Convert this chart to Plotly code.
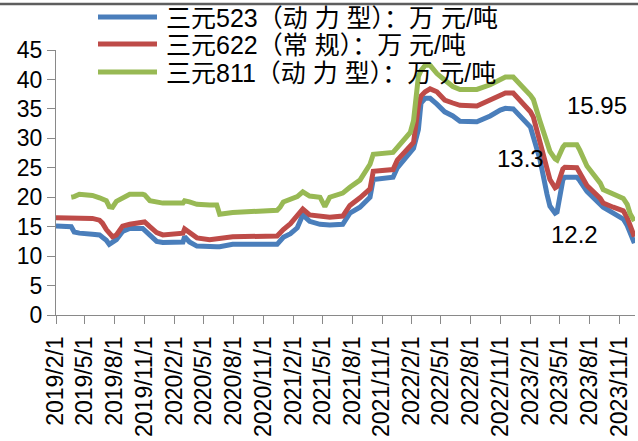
import plotly.graph_objects as go

# Weekly quotation dates (sampled where prices change)
dates = [
    "2019-02-01", "2019-03-01", "2019-03-20", "2019-03-29", "2019-04-14", "2019-05-24",
    "2019-06-15", "2019-06-24", "2019-07-06", "2019-07-15", "2019-07-25", "2019-08-06",
    "2019-08-25", "2019-09-16", "2019-10-26", "2019-11-01", "2019-11-17", "2019-12-08",
    "2019-12-27", "2020-02-27", "2020-03-03", "2020-03-18", "2020-04-10", "2020-05-19",
    "2020-06-10", "2020-06-19", "2020-07-29", "2020-12-13", "2020-12-22", "2021-01-01",
    "2021-01-23", "2021-02-13", "2021-03-02", "2021-03-23", "2021-04-24", "2021-05-09",
    "2021-05-24", "2021-07-03", "2021-07-25", "2021-08-25", "2021-09-25", "2021-10-05",
    "2021-12-05", "2021-12-18", "2022-01-27", "2022-02-06", "2022-02-21", "2022-03-01",
    "2022-03-14", "2022-03-29", "2022-04-19", "2022-05-13", "2022-06-07", "2022-06-29",
    "2022-08-20", "2022-09-30", "2022-10-31", "2022-11-16", "2022-12-10", "2022-12-22",
    "2023-01-10", "2023-02-01", "2023-02-10", "2023-03-02", "2023-03-24", "2023-04-02",
    "2023-04-18", "2023-04-24", "2023-05-12", "2023-05-18", "2023-06-24", "2023-07-03",
    "2023-07-25", "2023-09-04", "2023-09-13", "2023-10-14", "2023-11-14", "2023-11-26",
    "2023-12-05", "2023-12-18",
]

# 三元523（动力型）, 万元/吨
ncm523 = [
    15.1, 15.1, 15.0, 14.1, 13.9, 13.7, 13.6, 13.2, 12.7, 12.0, 12.3, 12.8,
    14.2, 14.7, 14.7, 14.4, 13.5, 12.5, 12.3, 12.4, 13.3, 12.4, 11.7, 11.5,
    11.6, 11.6, 12.0, 12.0, 12.6, 13.2, 13.8, 14.8, 17.0, 15.9, 15.4, 15.3,
    15.3, 15.4, 17.3, 18.3, 20.0, 23.0, 23.4, 25.0, 27.5, 28.3, 31.5, 36.0,
    36.8, 36.8, 35.8, 34.5, 33.8, 32.9, 32.8, 33.8, 34.8, 35.1, 35.0, 34.3,
    33.2, 31.9, 30.2, 26.5, 20.5, 18.5, 17.3, 17.5, 23.0, 23.4, 23.4, 22.8,
    21.0, 19.0, 18.3, 17.3, 16.3, 15.2, 14.0, 12.2,
]

# 三元622（常规）, 万元/吨
ncm622 = [
    16.5, 16.5, 16.5, 16.5, 16.5, 16.4, 16.1, 15.6, 14.5, 13.8, 13.3, 13.6,
    15.1, 15.4, 15.6, 15.8, 15.0, 14.0, 13.6, 13.9, 14.6, 13.9, 13.1, 12.8,
    13.0, 13.0, 13.3, 13.4, 14.0, 14.5, 15.5, 16.8, 18.0, 17.0, 16.7, 16.6,
    16.6, 16.8, 18.6, 19.9, 21.4, 24.4, 24.7, 26.3, 28.8, 29.3, 35.5, 37.2,
    37.9, 38.4, 37.9, 36.5, 36.0, 35.6, 35.5, 36.5, 37.3, 37.7, 37.7, 37.0,
    35.6, 34.5, 33.6, 29.5, 25.5, 23.0, 21.6, 21.8, 24.8, 25.1, 25.0, 24.2,
    22.0, 19.8, 19.0, 18.3, 17.7, 16.5, 15.0, 13.3,
]

# 三元811（动力型）, 万元/吨 (quotes start in March 2019)
ncm811 = [
    None, None, 20.0, 20.1, 20.5, 20.3, 19.9, 19.6, 19.4, 18.4, 18.3, 19.3,
    19.9, 20.5, 20.5, 20.4, 19.4, 19.1, 19.0, 19.0, 19.4, 19.2, 18.8, 18.7,
    18.7, 17.1, 17.4, 17.8, 18.3, 19.2, 19.6, 20.1, 20.9, 20.2, 20.0, 18.4,
    20.0, 20.7, 21.7, 22.9, 25.6, 27.3, 27.6, 28.5, 31.0, 33.0, 40.5, 41.5,
    42.4, 42.4, 41.0, 39.9, 38.8, 38.3, 38.3, 39.1, 40.0, 40.4, 40.4, 39.6,
    38.6, 37.3, 36.6, 33.0, 29.5, 27.8, 26.5, 26.3, 28.5, 28.9, 28.9, 28.0,
    25.3, 22.4, 21.3, 20.6, 19.8, 18.8, 17.2, 15.95,
]

series_names = [
    "三元523（动 力 型）：万 元/吨",
    "三元622（常 规）：万 元/吨",
    "三元811（动 力 型）：万 元/吨",
]
series_values = [ncm523, ncm622, ncm811]
series_colors = ["#4A7EBB", "#BE4B48", "#98B954"]

tick_dates = [
    "2019-02-01", "2019-05-01", "2019-08-01", "2019-11-01",
    "2020-02-01", "2020-05-01", "2020-08-01", "2020-11-01",
    "2021-02-01", "2021-05-01", "2021-08-01", "2021-11-01",
    "2022-02-01", "2022-05-01", "2022-08-01", "2022-11-01",
    "2023-02-01", "2023-05-01", "2023-08-01", "2023-11-01",
]
tick_labels = [
    "2019/2/1", "2019/5/1", "2019/8/1", "2019/11/1",
    "2020/2/1", "2020/5/1", "2020/8/1", "2020/11/1",
    "2021/2/1", "2021/5/1", "2021/8/1", "2021/11/1",
    "2022/2/1", "2022/5/1", "2022/8/1", "2022/11/1",
    "2023/2/1", "2023/5/1", "2023/8/1", "2023/11/1",
]

# Latest-price call-outs: (text, x date, y level)
end_labels = [
    ("15.95", "2023-08-25", 35.5),
    ("13.3", "2023-01-01", 26.5),
    ("12.2", "2023-06-18", 13.75),
]

W, H = 638, 441
L, R, T, B = 56, 3, 50, 126
plot_w = W - L - R
plot_h = H - T - B

LATIN_CJK = "Liberation Sans, Arial, Noto Sans CJK SC, sans-serif"

fig = go.Figure()
for name, vals, col in zip(series_names, series_values, series_colors):
    fig.add_trace(go.Scatter(
        x=dates, y=vals, mode="lines", name=name,
        line=dict(color=col, width=5),
        connectgaps=False, showlegend=False,
    ))


def px_x(px):
    return (px - L) / plot_w


def px_y(py):
    return (H - B - py) / plot_h


shapes = []
annotations = []

# Hand-placed legend rows above the plot
legend_rows_y = [17, 44, 72]
for name, col, ry in zip(series_names, series_colors, legend_rows_y):
    shapes.append(dict(
        type="line", xref="paper", yref="paper",
        x0=px_x(98), x1=px_x(157), y0=px_y(ry), y1=px_y(ry),
        line=dict(color=col, width=5),
    ))
    annotations.append(dict(
        xref="paper", yref="paper", x=px_x(164), y=px_y(ry + 1),
        xanchor="left", yanchor="middle", showarrow=False,
        text=name, font=dict(family=LATIN_CJK, size=25, color="#000000"),
    ))

# Dark rule along the top edge
shapes.append(dict(
    type="line", xref="paper", yref="paper",
    x0=px_x(0), x1=px_x(W), y0=px_y(4), y1=px_y(4),
    line=dict(color="#5E5E5E", width=2.5),
))

for text, xd, yv in end_labels:
    annotations.append(dict(
        x=xd, y=yv, xref="x", yref="y", text=text, showarrow=False,
        xanchor="center", yanchor="middle",
        font=dict(family=LATIN_CJK, size=24, color="#000000"),
    ))

fig.update_layout(
    width=W, height=H,
    margin=dict(l=L, r=R, t=T, b=B),
    paper_bgcolor="white", plot_bgcolor="white",
    shapes=shapes, annotations=annotations,
    showlegend=False,
)

fig.update_xaxes(
    type="date",
    range=["2019-02-01", "2023-12-20"],
    tickmode="array", tickvals=tick_dates, ticktext=tick_labels,
    tickangle=-90,
    ticks="outside", ticklen=8, tickcolor="#898989", tickwidth=1,
    ticklabelstandoff=3,
    showline=True, linecolor="#898989", linewidth=1.3,
    showgrid=False, zeroline=False,
    tickfont=dict(family=LATIN_CJK, size=23, color="#000000"),
)
fig.update_yaxes(
    range=[0, 45], dtick=5, tick0=0,
    ticks="outside", ticklen=8, tickcolor="#898989", tickwidth=1,
    showline=True, linecolor="#898989", linewidth=1.3,
    showgrid=False, zeroline=False,
    tickfont=dict(family=LATIN_CJK, size=23, color="#000000"),
)

fig.write_html("out.html")
